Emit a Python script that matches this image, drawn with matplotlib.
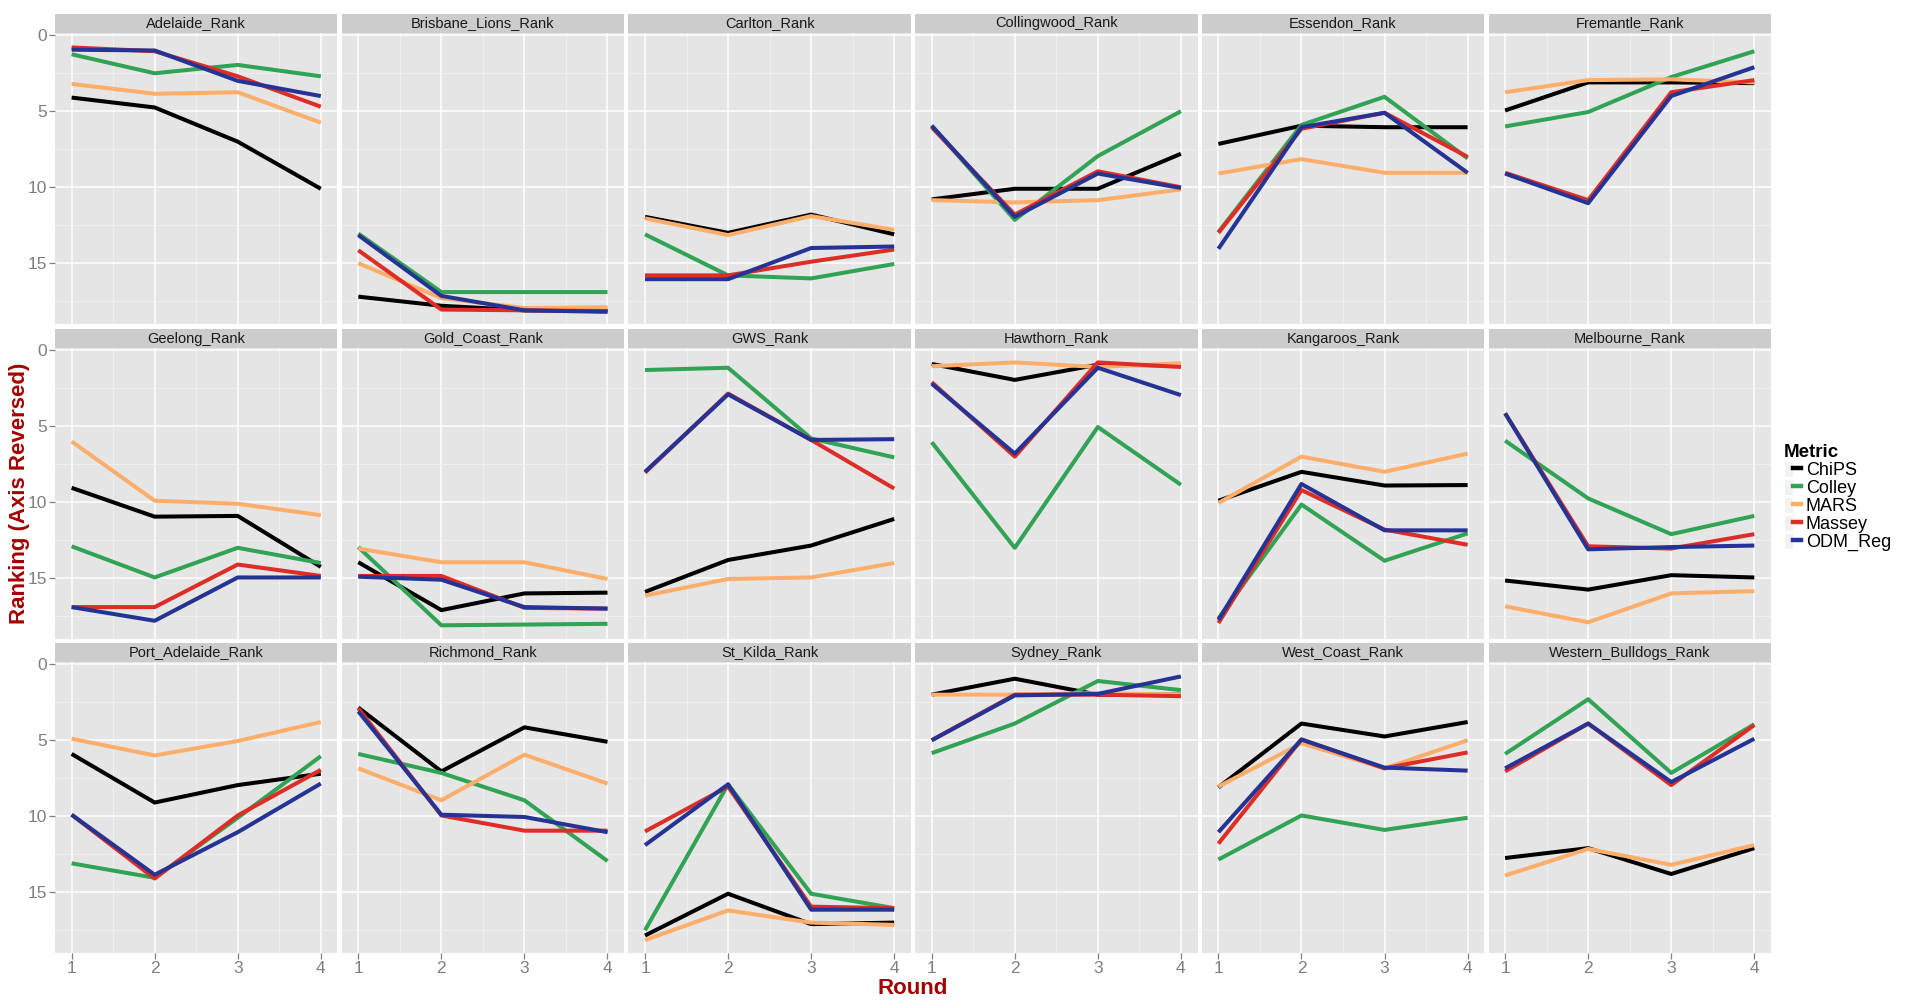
import matplotlib
matplotlib.use("Agg")
import matplotlib.pyplot as plt
from matplotlib.patches import Rectangle, Patch
from matplotlib.lines import Line2D
from matplotlib.legend_handler import HandlerTuple

plt.rcParams['font.family'] = ['Liberation Sans Narrow', 'Liberation Sans', 'DejaVu Sans']

# ---------------- data (ranking per round) ----------------
rounds = [1, 2, 3, 4]
teams = ['Adelaide_Rank', 'Brisbane_Lions_Rank', 'Carlton_Rank', 'Collingwood_Rank',
         'Essendon_Rank', 'Fremantle_Rank', 'Geelong_Rank', 'Gold_Coast_Rank',
         'GWS_Rank', 'Hawthorn_Rank', 'Kangaroos_Rank', 'Melbourne_Rank',
         'Port_Adelaide_Rank', 'Richmond_Rank', 'St_Kilda_Rank', 'Sydney_Rank',
         'West_Coast_Rank', 'Western_Bulldogs_Rank']
metrics = ['ChiPS', 'Colley', 'MARS', 'Massey', 'ODM_Reg']
metric_colors = ['#000000', '#31a354', '#fdae6b', '#de2d26', '#253494']

chips = [[4.1, 4.75, 7.0, 10.1], [17.2, 17.8, 18.1, 18.1], [11.95, 13.0, 11.8, 13.1],
         [10.8, 10.1, 10.1, 7.8], [7.15, 5.95, 6.05, 6.05], [4.95, 3.1, 3.1, 3.15],
         [9.05, 10.95, 10.9, 14.25], [13.95, 17.1, 16.0, 15.95], [15.9, 13.8, 12.85, 11.1],
         [0.9, 1.95, 0.95, 1.0], [9.9, 8.0, 8.9, 8.87], [15.15, 15.75, 14.8, 14.95],
         [5.9, 9.1, 7.95, 7.2], [2.85, 7.05, 4.15, 5.1], [17.85, 15.1, 17.1, 17.0],
         [2.0, 0.95, 2.0, 2.0], [8.1, 3.9, 4.75, 3.8], [12.75, 12.1, 13.8, 12.1]]
colley = [[1.25, 2.5, 1.95, 2.7], [13.05, 16.9, 16.9, 16.9], [13.1, 15.8, 16.0, 15.05],
          [5.95, 12.15, 7.95, 5.0], [12.95, 5.9, 4.05, 8.1], [6.0, 5.05, 2.75, 1.05],
          [12.9, 14.95, 13.0, 14.0], [12.95, 18.1, 18.05, 18.0], [1.3, 1.15, 5.8, 7.05],
          [6.05, 13.0, 5.05, 8.85], [17.65, 10.15, 13.85, 12.05], [5.95, 9.75, 12.1, 10.9],
          [13.1, 14.05, 10.1, 6.05], [5.9, 7.15, 8.95, 12.95], [17.5, 7.9, 15.1, 16.05],
          [5.85, 3.9, 1.1, 1.7], [12.85, 9.95, 10.9, 10.1], [5.9, 2.3, 7.15, 3.95]]
mars = [[3.2, 3.85, 3.75, 5.75], [15.0, 17.3, 17.95, 17.9], [12.05, 13.15, 11.9, 12.8],
        [10.85, 11.0, 10.85, 10.15], [9.1, 8.15, 9.05, 9.05], [3.75, 2.95, 2.9, 3.1],
        [6.0, 9.9, 10.1, 10.85], [13.05, 13.95, 13.95, 15.05], [16.15, 15.05, 14.95, 14.0],
        [1.05, 0.8, 1.1, 0.85], [10.05, 7.0, 8.0, 6.8], [16.85, 17.9, 16.0, 15.85],
        [4.9, 6.0, 5.05, 3.8], [6.85, 8.95, 5.95, 7.85], [18.15, 16.2, 17.0, 17.15],
        [2.0, 2.0, 1.9, 2.0], [8.05, 5.2, 6.85, 5.0], [13.9, 12.15, 13.2, 11.9]]
massey = [[0.8, 1.05, 2.7, 4.7], [14.15, 18.05, 18.1, 18.15], [15.8, 15.8, 14.9, 14.1],
          [6.05, 11.8, 8.95, 10.0], [13.0, 6.15, 5.1, 8.0], [9.05, 10.85, 3.75, 2.95],
          [16.9, 16.9, 14.1, 14.85], [14.85, 14.85, 16.95, 17.0], [8.05, 2.85, 5.9, 9.1],
          [2.1, 7.0, 0.8, 1.1], [17.95, 9.2, 11.8, 12.8], [4.15, 12.9, 13.05, 12.1],
          [9.9, 14.1, 9.95, 6.95], [2.9, 9.95, 10.95, 10.95], [11.0, 8.05, 15.95, 16.05],
          [5.0, 2.0, 2.0, 2.1], [11.8, 4.95, 6.85, 5.8], [7.05, 3.9, 7.95, 4.0]]
odm_reg = [[0.95, 1.0, 3.0, 4.0], [13.15, 17.15, 18.1, 18.2], [16.05, 16.05, 14.0, 13.9],
           [5.95, 11.95, 9.1, 10.05], [14.05, 6.05, 5.1, 9.05], [9.1, 11.05, 4.0, 2.1],
           [16.9, 17.8, 14.95, 14.95], [14.9, 15.1, 16.9, 17.0], [8.0, 2.9, 5.9, 5.85],
           [2.2, 6.8, 1.15, 2.95], [17.75, 8.8, 11.85, 11.85], [4.15, 13.1, 12.95, 12.85],
           [9.9, 13.85, 11.05, 7.85], [3.1, 9.9, 10.05, 11.05], [11.9, 7.9, 16.15, 16.15],
           [5.0, 2.05, 1.95, 0.8], [11.05, 4.95, 6.8, 7.0], [6.85, 3.9, 7.75, 4.9]]
series = [chips, colley, mars, massey, odm_reg]

# ---------------- layout (pixels of a 1920x1005 canvas) ----------------
W, H = 1920, 1005
fig = plt.figure(figsize=(W / 100, H / 100), dpi=100)

left_px, panel_w, gap_w = 55, 282.4, 4.3
panel_tops = [33, 348, 662]
panel_h, strip_h = 291, 19
ncol = 6

for i, team in enumerate(teams):
    r, c = divmod(i, ncol)
    x0 = left_px + c * (panel_w + gap_w)
    y0 = panel_tops[r] + panel_h
    ax = fig.add_axes([x0 / W, 1 - y0 / H, panel_w / W, panel_h / H])
    ax.set_facecolor('#E5E5E5')
    for s in ax.spines.values():
        s.set_visible(False)

    for vals, col in zip(series, metric_colors):
        ax.plot(rounds, vals[i], color=col, lw=2.9, solid_capstyle='butt', zorder=3)

    ax.set_xlim(0.8, 4.2)
    ax.set_ylim(19.0, -0.15)
    ax.set_xticks(rounds)
    ax.set_xticks([1.5, 2.5, 3.5], minor=True)
    ax.set_yticks([0, 5, 10, 15])
    ax.set_yticks([2.5, 7.5, 12.5, 17.5], minor=True)
    ax.grid(which='major', color='white', lw=1.1, zorder=0)
    ax.grid(which='minor', color='#F2F2F2', lw=0.6, zorder=0)
    ax.set_axisbelow(True)
    ax.tick_params(which='minor', length=0)
    ax.tick_params(which='major', length=4, width=0.9, color='#7F7F7F',
                   labelsize=12.5, labelcolor='#7F7F7F', pad=2)
    if c != 0:
        ax.tick_params(axis='y', length=0, labelleft=False)
    if r != 2:
        ax.tick_params(axis='x', length=0, labelbottom=False)

    # facet strip
    sh = strip_h / panel_h
    ax.add_patch(Rectangle((0, 1), 1, sh, transform=ax.transAxes,
                           facecolor='#CCCCCC', edgecolor='none', clip_on=False))
    ax.text(0.5, 1 + sh / 2, team, transform=ax.transAxes, ha='center', va='center',
            fontsize=10.5, color='#1A1A1A')

# axis titles
fig.text(20 / W, 1 - 493 / H, 'Ranking (Axis Reversed)', rotation=90, ha='center',
         va='center', fontsize=16, fontweight='bold', color='#A50000')
fig.text(913 / W, 1 - 988 / H, 'Round', ha='center', va='center',
         fontsize=16, fontweight='bold', color='#A50000')

# legend (grey key boxes like ggplot)
handles = [(Patch(facecolor='#F2F2F2', edgecolor='white', lw=0.8),
            Line2D([], [], color=col, lw=3.2)) for col in metric_colors]
leg = fig.legend(handles, metrics, loc='upper left', bbox_to_anchor=(1784 / W, 1 - 444 / H),
                 frameon=False, title='Metric', fontsize=13, handlelength=0.95,
                 handleheight=0.95, handletextpad=0.25, labelspacing=0.0, borderpad=0,
                 borderaxespad=0, alignment='left',
                 handler_map={tuple: HandlerTuple(ndivide=None, pad=0)},
                 title_fontproperties={'weight': 'bold', 'size': 13.5})

fig.savefig('out.png', dpi=100)
